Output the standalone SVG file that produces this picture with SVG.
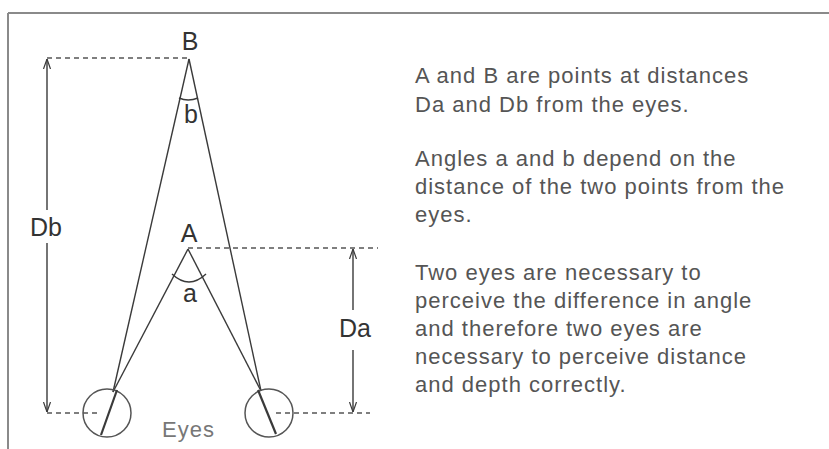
<svg xmlns="http://www.w3.org/2000/svg" width="829" height="449" viewBox="0 0 829 449">
<style>
.ln{stroke:#3a3a3a;stroke-width:1.4;fill:none}
.dash{stroke:#555;stroke-width:1.3;stroke-dasharray:5 4;fill:none}
.lbl{font-family:"Liberation Sans",Arial,sans-serif;font-size:25px;fill:#333}
.txt{font-family:"Liberation Sans",Arial,sans-serif;font-size:22px;fill:#555;letter-spacing:1px}
.eye{stroke:#555;stroke-width:1.5;fill:none}
</style>
<defs>
<marker id="arr" viewBox="0 0 10 10" refX="10" refY="5" markerWidth="10" markerHeight="10" markerUnits="userSpaceOnUse" orient="auto">
<path d="M0,1.5 L10,5 L0,8.5" fill="none" stroke="#3a3a3a" stroke-width="1.2"/>
</marker>
</defs>
<rect width="829" height="449" fill="#fff"/>
<g id="frame">
<line x1="8" y1="13" x2="829" y2="13" stroke="#8a8a8a" stroke-width="2"/>
<line x1="8" y1="13" x2="8" y2="449" stroke="#8a8a8a" stroke-width="2"/>
</g>
<g id="connectors">
<line class="dash" x1="47" y1="58" x2="189" y2="58"/>
<line class="dash" x1="188" y1="248" x2="378" y2="248"/>
<line class="dash" x1="47" y1="413" x2="98" y2="413"/>
<line class="dash" x1="276" y1="413" x2="370" y2="413"/>
<line class="ln" x1="47" y1="210" x2="47" y2="59" marker-end="url(#arr)"/>
<line class="ln" x1="47" y1="243" x2="47" y2="412" marker-end="url(#arr)"/>
<line class="ln" x1="353" y1="310" x2="353" y2="249" marker-end="url(#arr)"/>
<line class="ln" x1="353" y1="350" x2="353" y2="412" marker-end="url(#arr)"/>
<line class="ln" x1="189" y1="59" x2="113" y2="392"/>
<line class="ln" x1="189" y1="59" x2="261" y2="391"/>
<line class="ln" x1="188" y1="249" x2="113" y2="392"/>
<line class="ln" x1="188" y1="249" x2="261" y2="391"/>
<path class="ln" d="M179,98 Q188,102 198,98"/>
<path class="ln" d="M172,274 Q189,290 206,274"/>
</g>
<g id="point-B"><text class="lbl" x="190" y="50" text-anchor="middle">B</text></g>
<g id="angle-b"><text class="lbl" x="191" y="123" text-anchor="middle">b</text></g>
<g id="point-A"><text class="lbl" x="189" y="242" text-anchor="middle">A</text></g>
<g id="angle-a"><text class="lbl" x="190" y="302" text-anchor="middle">a</text></g>
<g id="label-Db"><text class="lbl" x="30" y="236">Db</text></g>
<g id="label-Da"><text class="lbl" x="339" y="337">Da</text></g>
<g id="eye-left">
<circle class="eye" cx="107" cy="413" r="24"/>
<line x1="117" y1="390" x2="101" y2="435" stroke="#3a3a3a" stroke-width="2.2"/>
</g>
<g id="eye-right">
<circle class="eye" cx="269" cy="413" r="24"/>
<line x1="258" y1="390" x2="276" y2="434" stroke="#3a3a3a" stroke-width="2.2"/>
</g>
<g id="eyes-label"><text class="txt" x="162" y="437" fill="#777" style="fill:#777">Eyes</text></g>
<g id="description">
<text class="txt" x="415" y="83">A and B are points at distances</text>
<text class="txt" x="415" y="112">Da and Db from the eyes.</text>
<text class="txt" x="415" y="166">Angles a and b depend on the</text>
<text class="txt" x="415" y="194">distance of the two points from the</text>
<text class="txt" x="415" y="222">eyes.</text>
<text class="txt" x="415" y="280">Two eyes are necessary to</text>
<text class="txt" x="415" y="308">perceive the difference in angle</text>
<text class="txt" x="415" y="336">and therefore two eyes are</text>
<text class="txt" x="415" y="364">necessary to perceive distance</text>
<text class="txt" x="415" y="392">and depth correctly.</text>
</g>
</svg>
